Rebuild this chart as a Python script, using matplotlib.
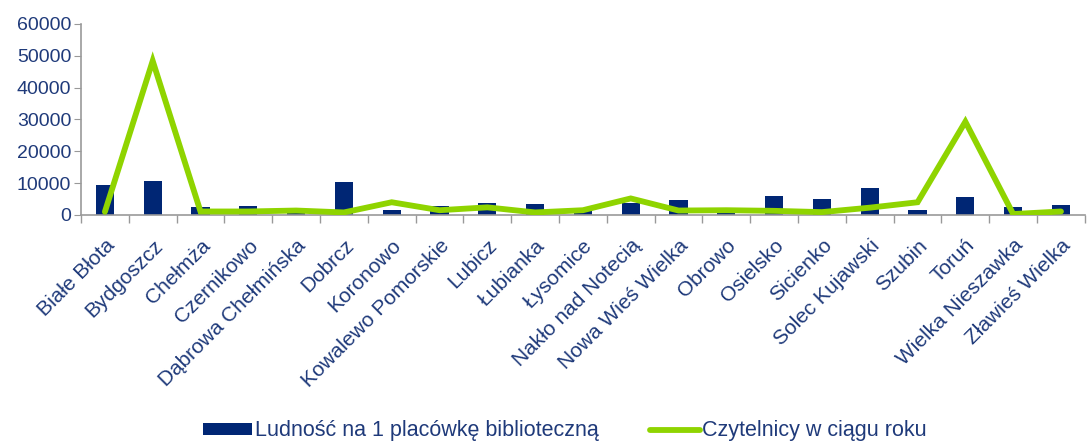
import matplotlib
matplotlib.use('Agg')
import matplotlib.pyplot as plt
from matplotlib.ticker import FixedLocator
import numpy as np

plt.rcParams['font.family'] = ['Liberation Sans', 'DejaVu Sans']

gminy = ['Białe Błota', 'Bydgoszcz', 'Chełmża', 'Czernikowo', 'Dąbrowa Chełmińska',
         'Dobrcz', 'Koronowo', 'Kowalewo Pomorskie', 'Lubicz', 'Łubianka', 'Łysomice',
         'Nakło nad Notecią', 'Nowa Wieś Wielka', 'Obrowo', 'Osielsko', 'Sicienko',
         'Solec Kujawski', 'Szubin', 'Toruń', 'Wielka Nieszawka', 'Zławieś Wielka']
ludnosc = [9400, 10700, 2500, 2900, 1000, 10500, 1500, 2800, 3900, 3300, 1200,
           3900, 4700, 1000, 6000, 4900, 8400, 1600, 5700, 2400, 3200]
czytelnicy = [1000, 48400, 1100, 1100, 1400, 800, 4000, 1500, 2400, 800, 1500,
              5200, 1400, 1500, 1300, 900, 2300, 4000, 29300, 300, 1100]

navy = '#002674'
green = '#8fd400'
text_col = '#1f3a7a'
grey = '#999999'

fig = plt.figure(figsize=(10.9, 4.41), dpi=100)
ax = fig.add_axes([0.0743, 0.5125, 0.921, 0.4331])

x = np.arange(len(gminy))
bars = ax.bar(x, ludnosc, width=0.38, color=navy, zorder=2)
line, = ax.plot(x, czytelnicy, color=green, lw=4.2, solid_capstyle='round',
                solid_joinstyle='miter', zorder=3)

ax.set_xlim(-0.5, len(gminy) - 0.5)
ax.set_ylim(0, 60000)
ax.set_yticks(range(0, 60001, 10000))

ax.set_xticks(x)
ax.set_xticklabels(gminy, rotation=45, ha='right', rotation_mode='anchor',
                   fontsize=15, color=text_col)
ax.tick_params(axis='x', which='major', length=0, pad=15)
ax.xaxis.set_minor_locator(FixedLocator(np.arange(-0.5, len(gminy), 1.0)))
ax.tick_params(axis='x', which='minor', length=6, color=grey, width=1)
ax.tick_params(axis='y', length=5, color=grey, labelsize=14, labelcolor=text_col, pad=2)

for s in ['top', 'right']:
    ax.spines[s].set_visible(False)
for s in ['left', 'bottom']:
    ax.spines[s].set_color(grey)
    ax.spines[s].set_linewidth(1.2)

fig.legend([bars, line], ['Ludność na 1 placówkę biblioteczną', 'Czytelnicy w ciągu roku'],
           loc='lower center', bbox_to_anchor=(0.518, -0.045), ncol=2, frameon=False,
           fontsize=15.5, labelcolor=text_col, handlelength=2.3, handletextpad=0.1,
           columnspacing=2.4, handleheight=0.5)

fig.savefig('out.png', dpi=100)
